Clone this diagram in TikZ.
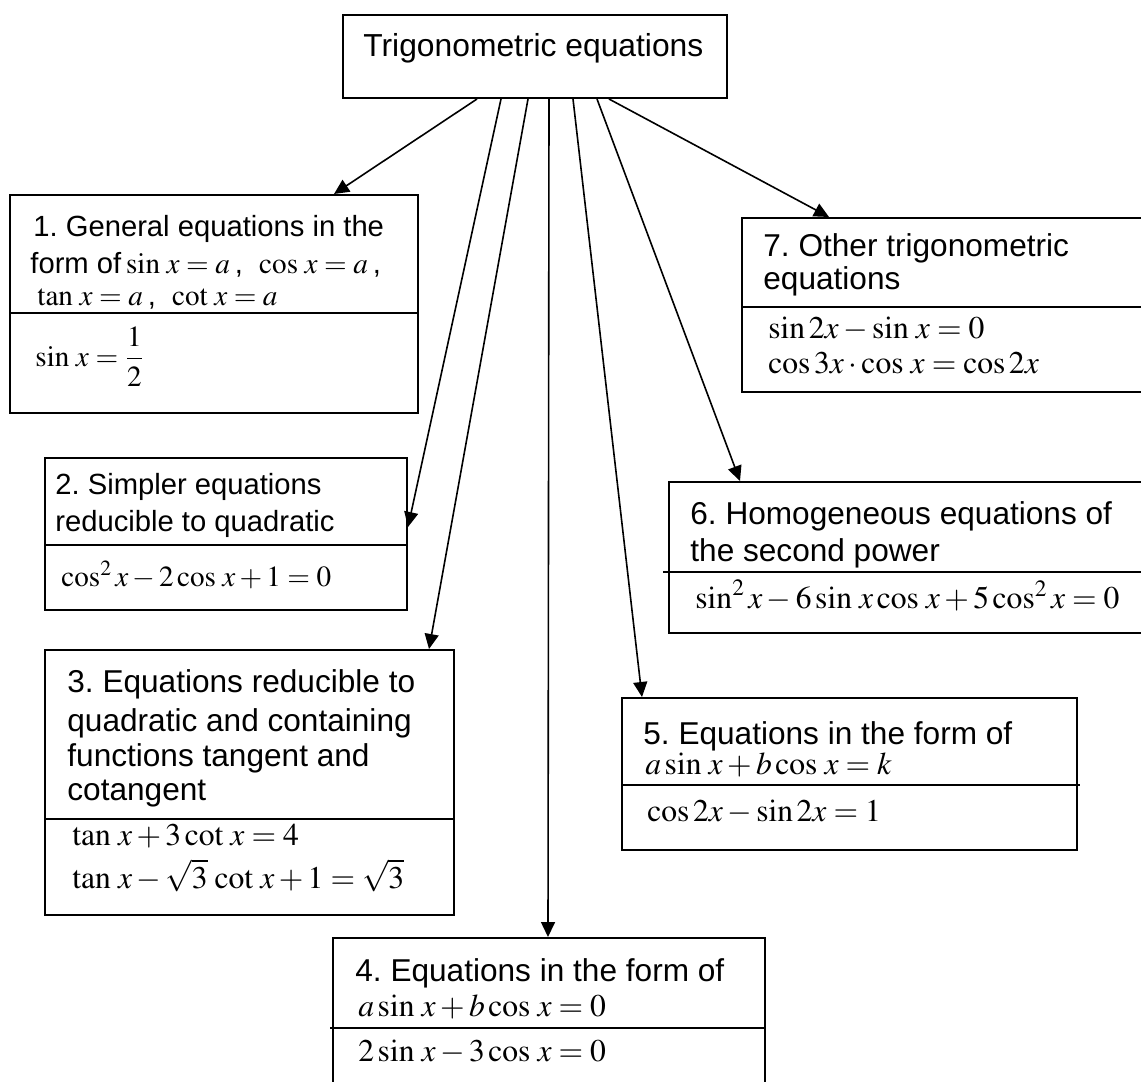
\documentclass[tikz,border=0pt]{standalone}
\usepackage{mathptmx}
\usepackage[no-math]{fontspec}
\setmainfont{Liberation Sans}
\usetikzlibrary{arrows.meta,calc,fit}
\frenchspacing
\newcommand{\msin}{\sin\,}
\newcommand{\mcos}{\cos\,}
\newcommand{\mtan}{\tan\,}
\newcommand{\mcot}{\cot\,}
\begin{document}
\begin{tikzpicture}[x=0.5pt,y=-0.5pt,
  box/.style={draw, line width=1pt, inner sep=0pt, rectangle},
  txt/.style={anchor=base west, inner sep=0pt},
  ta/.style={txt, font=\fontsize{14.6}{17}\selectfont},
  tb/.style={txt, font=\fontsize{15.8}{18}\selectfont},
  arr/.style={line width=0.8pt, -{Triangle[length=7.5pt,width=7pt]}},
  divl/.style={line width=1pt}]
\clip (0,0) rectangle (1141,1082);
\fill[white] (0,0) rectangle (1141,1082);
% boxes
\node[box, fit={(343,15) (727,98)}] (top) {};
\node[box, fit={(10,195) (418,413)}] (b1) {};
\node[box, fit={(45,458) (407,610)}] (b2) {};
\node[box, fit={(45,650) (454,915)}] (b3) {};
\node[box, fit={(333,938) (765,1120)}] (b4) {};
\node[box, fit={(622,698) (1077,850)}] (b5) {};
\node[box, fit={(669,482) (1160,633)}] (b6) {};
\node[box, fit={(742,218) (1160,392)}] (b7) {};
% dividers
\draw[divl] (b1.west |- 0,313) -- (b1.east |- 0,313);
\draw[divl] (b2.west |- 0,545) -- (b2.east |- 0,545);
\draw[divl] (b3.west |- 0,819) -- (b3.east |- 0,819);
\draw[divl] (330,1028) -- (b4.east |- 0,1028);
\draw[divl] (b5.west |- 0,785) -- (1080,785);
\draw[divl] (663,572) -- (b6.east |- 0,572);
\draw[divl] (b7.west |- 0,307) -- (b7.east |- 0,307);
% texts
\node[txt, font=\fontsize{15.9}{18}\selectfont] (ttop) at (363,56) {Trigonometric equations};
\node[ta] (t1a) at (33,236) {1. General equations in the};
\node[ta] (t1b) at (30,273) {form of\,$\msin x = a$\,, \ $\mcos x = a$\,,};
\node[ta] (t1c) at (37,305) {$\mtan x = a$\,, \ $\mcot x = a$};
\node[ta] (t1d) at (35,366) {$\msin x = {\displaystyle\frac{1}{2}}$};
\node[ta] (t2a) at (55,494) {2. Simpler equations};
\node[ta] (t2b) at (55,531) {reducible to quadratic};
\node[ta] (t2c) at (61,586) {$\cos^2 x - 2\mcos x + 1 = 0$};
\node[tb] (t3a) at (67,692) {3. Equations reducible to};
\node[tb] (t3b) at (67,731) {quadratic and containing};
\node[tb] (t3c) at (67,766) {functions tangent and};
\node[tb] (t3d) at (67,800) {cotangent};
\node[tb] (t3e) at (72,845) {$\mtan x + 3\mcot x = 4$};
\node[tb] (t3f) at (72,888) {$\mtan x - \sqrt{3}\,\mcot x + 1 = \sqrt{3}$};
\node[tb] (t4a) at (355,981) {4. Equations in the form of};
\node[tb] (t4b) at (358,1016) {$a\msin x + b\mcos x = 0$};
\node[tb] (t4c) at (358,1061) {$2\msin x - 3\mcos x = 0$};
\node[tb] (t5a) at (643,744) {5. Equations in the form of};
\node[tb] (t5b) at (645,774) {$a\msin x + b\mcos x = k$};
\node[tb] (t5c) at (647,821) {$\cos 2x - \sin 2x = 1$};
\node[tb] (t6a) at (690,524) {6. Homogeneous equations of};
\node[tb] (t6b) at (690,561) {the second power};
\node[tb] (t6c) at (695,608) {$\sin^2 x - 6\msin x\mcos x + 5\cos^2 x = 0$};
\node[tb] (t7a) at (763,256) {7. Other trigonometric};
\node[tb] (t7b) at (763,289) {equations};
\node[tb] (t7c) at (768,338) {$\sin 2x - \msin x = 0$};
\node[tb] (t7d) at (768,373) {$\cos 3x\cdot\mcos x = \cos 2x$};
% arrows
\draw[arr] ($(top.south west)+(135,0)$) -- ($(b1.north west)+(325,0)$);
\draw[arr] ($(top.south west)+(159,0)$) -- ($(b2.north east)+(0,70)$);
\draw[arr] ($(top.south west)+(186,0)$) -- ($(b3.north west)+(385,0)$);
\draw[arr] ($(top.south west)+(207,0)$) -- ($(b4.north west)+(216,0)$);
\draw[arr] ($(top.south west)+(231,0)$) -- ($(b5.north west)+(21,0)$);
\draw[arr] ($(top.south west)+(255,0)$) -- ($(b6.north west)+(72,0)$);
\draw[arr] ($(top.south west)+(267,0)$) -- ($(b7.north west)+(88,0)$);
\end{tikzpicture}
\end{document}
